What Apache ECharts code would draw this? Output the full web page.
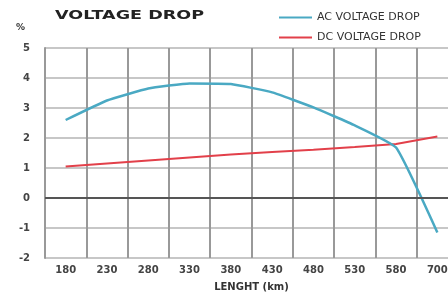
<!DOCTYPE html>
<html>
<head>
<meta charset="utf-8">
<script src="https://cdn.jsdelivr.net/npm/echarts@6/dist/echarts.min.js"></script>
<style>
  html, body { margin: 0; padding: 0; background: #fff; }
  #chart { width: 448px; height: 297px; }
</style>
</head>
<body>
<div id="chart"></div>
<script>
// data
var lengths = ['180', '230', '280', '330', '380', '430', '480', '530', '580', '700'];
var acDrop = [2.6, 3.25, 3.65, 3.82, 3.8, 3.52, 3.02, 2.42, 1.68, -1.15];
var dcDrop = [1.05, 1.15, 1.25, 1.35, 1.45, 1.53, 1.61, 1.7, 1.8, 2.05];
var yTicks = [-2, 5, 1];   // min, max, interval

var chart = echarts.init(document.getElementById('chart'));

var option = {
  animation: false,
  legend: {
    orient: 'vertical',
    left: 274,
    top: 7,
    itemGap: 9,
    itemWidth: 33,
    itemHeight: 2,
    icon: 'rect',
    textStyle: { fontFamily: 'DejaVu Sans', fontSize: 11, color: '#333' },
    data: ['AC VOLTAGE DROP', 'DC VOLTAGE DROP']
  },
  graphic: [
    {
      // title, stretched a little to match the wide lettering
      type: 'text',
      x: 55,
      y: 9,
      scaleX: 1.35,
      style: { text: 'VOLTAGE DROP', font: 'bold 13px DejaVu Sans', fill: '#222' }
    },
    {
      type: 'text',
      left: 16,
      top: 23,
      style: { text: '%', font: 'bold 9px DejaVu Sans', fill: '#333' }
    }
  ],
  // the plot runs past the right edge of the picture
  grid: { left: 45, width: 413, top: 48, bottom: 39, outerBoundsMode: 'none', containLabel: false },
  xAxis: {
    type: 'category',
    data: lengths,
    boundaryGap: true,
    name: 'LENGHT (km)',
    nameLocation: 'middle',
    nameGap: 24,
    nameTextStyle: { fontFamily: 'DejaVu Sans', fontSize: 10, fontWeight: 'bold', color: '#333' },
    axisLine: { show: false },
    axisTick: { show: false },
    axisLabel: { fontFamily: 'DejaVu Sans', fontSize: 10, fontWeight: 'bold', color: '#444', margin: 7 },
    splitLine: { show: true, lineStyle: { color: '#999', width: 2 } }
  },
  yAxis: {
    type: 'value',
    min: yTicks[0],
    max: yTicks[1],
    interval: yTicks[2],
    axisLine: { show: true, lineStyle: { color: '#999', width: 2 } },
    axisTick: { show: false },
    axisLabel: { fontFamily: 'DejaVu Sans', fontSize: 10, fontWeight: 'bold', color: '#444', margin: 15 },
    splitLine: { lineStyle: { color: '#b5b5b5', width: 1.5 } }
  },
  series: [
    {
      name: 'AC VOLTAGE DROP',
      type: 'line',
      data: acDrop,
      smooth: 0.12,
      symbol: 'none',
      color: '#4aa9c3',
      lineStyle: { width: 2.5, color: '#4aa9c3' },
      z: 3,
      markLine: {
        silent: true,
        symbol: 'none',
        label: { show: false },
        lineStyle: { color: '#555', width: 2, type: 'solid' },
        data: [{ yAxis: 0 }]
      }
    },
    {
      name: 'DC VOLTAGE DROP',
      type: 'line',
      data: dcDrop,
      symbol: 'none',
      color: '#e2404a',
      lineStyle: { width: 2, color: '#e2404a' },
      z: 2
    }
  ]
};

chart.setOption(option);
</script>
</body>
</html>
